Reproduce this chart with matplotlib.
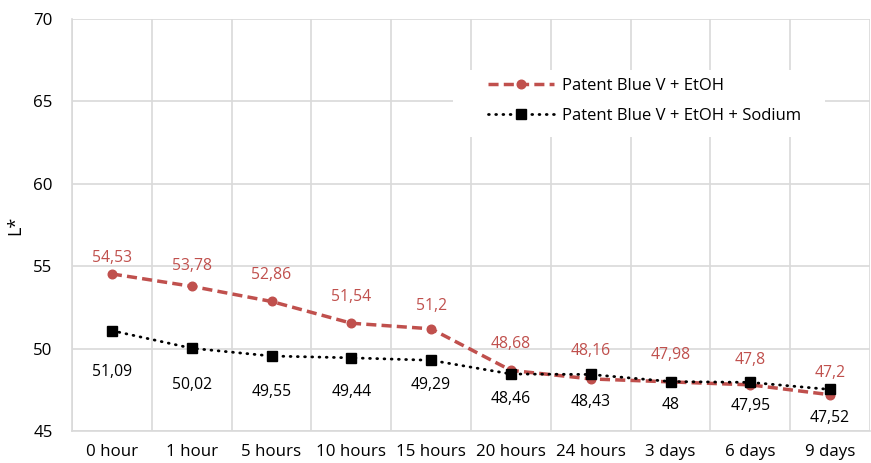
import matplotlib; matplotlib.use("Agg")
import matplotlib.pyplot as plt
from matplotlib.patches import Rectangle
import numpy as np

plt.rcParams.update({"font.family": ["Open Sans", "DejaVu Sans"], "font.size": 11})

categories = ["0 hour", "1 hour", "5 hours", "10 hours", "15 hours",
              "20 hours", "24 hours", "3 days", "6 days", "9 days"]
etoh = [54.53, 53.78, 52.86, 51.54, 51.2, 48.68, 48.16, 47.98, 47.8, 47.2]
etoh_sodium = [51.09, 50.02, 49.55, 49.44, 49.29, 48.46, 48.43, 48.0, 47.95, 47.52]
etoh_labels = ["54,53", "53,78", "52,86", "51,54", "51,2", "48,68", "48,16", "47,98", "47,8", "47,2"]
sodium_labels = ["51,09", "50,02", "49,55", "49,44", "49,29", "48,46", "48,43", "48", "47,95", "47,52"]

# label offsets in pixels (placed by hand in the original)
red_off = [16, 20, 26, 26, 23, 26, 28, 27, 25, 22]
blk_off = [41, 37, 36, 34, 25, 25, 28, 23, 24, 29]

RED = "#C0504D"
GRID = "#d9d9d9"

fig = plt.figure(figsize=(8.71, 4.63), dpi=100)
ax = fig.add_axes([72 / 871, (463 - 431) / 463, 798 / 871, 412 / 463])

x = np.arange(len(categories))
ax.plot(x, etoh, ls=(0, (2.9, 1.5)), lw=2.5, color=RED, marker="o", ms=6.2,
        label="Patent Blue V + EtOH", zorder=3)
ax.plot(x, etoh_sodium, ls=(0, (0.3, 2.3)), lw=2.0, color="black", marker="s", ms=6.5,
        dash_capstyle="round", label="Patent Blue V + EtOH + Sodium", zorder=4)

for xi, v, t, o in zip(x, etoh, etoh_labels, red_off):
    ax.annotate(t, (xi, v), xytext=(0, o), textcoords="offset pixels",
                ha="center", va="center", color=RED, fontsize=11.3)
for xi, v, t, o in zip(x, etoh_sodium, sodium_labels, blk_off):
    ax.annotate(t, (xi, v), xytext=(0, -o), textcoords="offset pixels",
                ha="center", va="center", color="black", fontsize=11.3)

ax.set_xlim(-0.5, len(categories) - 0.5)
ax.set_ylim(45, 70)
ax.set_yticks(np.arange(45, 71, 5))
ax.set_xticks(x)
ax.set_xticklabels(categories)
ax.set_xticks(np.arange(-0.5, len(categories), 1), minor=True)
ax.grid(False)
ax.grid(True, axis="y", which="major", color=GRID, lw=1.2)
ax.grid(True, axis="x", which="minor", color=GRID, lw=1.2)
ax.set_axisbelow(True)
ax.tick_params(axis="both", which="both", length=0, labelsize=12.2)
ax.tick_params(axis="x", pad=9)
ax.tick_params(axis="y", pad=14)
for s in ["top", "right"]:
    ax.spines[s].set_visible(False)
for s in ["left", "bottom"]:
    ax.spines[s].set_color(GRID)
    ax.spines[s].set_linewidth(1.2)
ax.set_ylabel("L*", fontsize=13, labelpad=6)

# white legend box hiding the grid
ax.add_patch(Rectangle((0.477, 0.714), 0.467, 0.162, transform=ax.transAxes,
                       facecolor="white", edgecolor="none", zorder=1.5))
leg = ax.legend(loc="upper left", bbox_to_anchor=(0.521, 0.857), frameon=False,
                handlelength=4.0, handletextpad=0.45, fontsize=12, labelspacing=0.85,
                borderaxespad=0, borderpad=0)

fig.savefig("out.png", dpi=100)
